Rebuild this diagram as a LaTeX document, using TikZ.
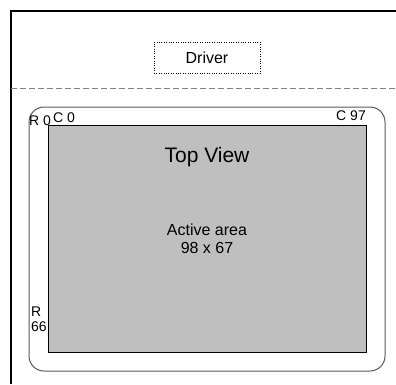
\documentclass[tikz,border=0pt]{standalone}
\usepackage{fontspec}
\setmainfont{Liberation Sans}
\usetikzlibrary{calc}
\definecolor{panelgray}{rgb}{0.75, 0.75, 0.75}
\definecolor{rimgray}{rgb}{0.35, 0.35, 0.35}

\begin{document}
\begin{tikzpicture}
    [x=1pt,y=-1pt,
     lbl/.style={inner sep=0pt,font=\fontsize{14}{15}\selectfont},
     txt/.style={font=\fontsize{16}{18}\selectfont,align=center}]

    \useasboundingbox (0,0) rectangle (396,384);

% outer frame and the driver strip
\draw[line width=2pt] (11,384) -- (11,11) -- (396,11);
\draw[gray,line width=1pt,dash pattern=on 6pt off 3pt] (11,88) -- (396,88);
\node[rectangle,draw,dotted,minimum width=106pt,minimum height=31pt,txt] (drv) at (207,57.5) {Driver};

% glass outline and active area
\draw[rimgray,line width=1pt,rounded corners=15pt] (29,107) rectangle (385,371);
\node[rectangle,draw,fill=panelgray,minimum width=318pt,minimum height=227pt] (act) at (207,238.5) {};

\path (207,157) node[font=\fontsize{21}{24}\selectfont] (top) {Top View};
\node[txt] (area) at (207,239) {Active area\\98 x 67};

% row and column markers
\node[lbl,anchor=south west] (r0) at (29,125.5) {R 0};
\node[lbl,anchor=south west] (c0) at (53,123) {C 0};
\node[lbl,anchor=south east] (c97) at (366,120.5) {C 97};
\node[lbl,anchor=north west,align=left] (r66) at (31,307) {R\\66};

  \end{tikzpicture}
\end{document}
